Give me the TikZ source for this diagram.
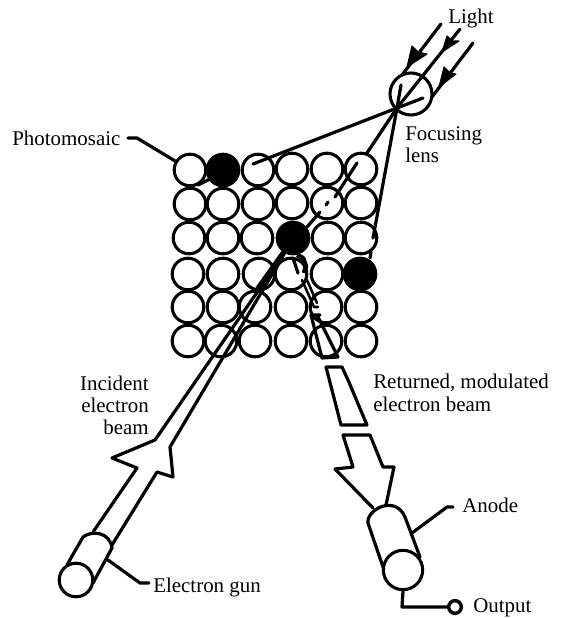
\documentclass[tikz,border=0pt]{standalone}
\usepackage{fontspec}
\setmainfont{Liberation Serif}
\begin{document}
\begin{tikzpicture}[x=0.75pt,y=-0.75pt,
  line join=round,
  ink/.style={line width=2.4pt,line cap=round},
  thin ink/.style={line width=1.9pt,line cap=round},
  cell/.style={circle,draw,line width=2.3pt,minimum size=23.7pt,inner sep=0pt},
  full/.style={cell,fill=black},
  lab/.style={anchor=base west,inner sep=0pt,font=\fontsize{15.7}{17}\selectfont},
  labr/.style={lab,anchor=base east},
  head/.style={fill=black,draw=black,line width=0.8pt}]
\useasboundingbox (0,0) rectangle (564,618);
% grid of mosaic cells
\foreach \n/\x/\y/\s in {
 a1/190/170/cell,a2/223/170/full,a3/258/170/cell,a4/292/169/cell,a5/327/169/cell,a6/361/169/cell,
 b1/190/204/cell,b2/223/204/cell,b3/258/204/cell,b4/292/203/cell,b5/327/203/cell,b6/361/203/cell,
 c1/189/238/cell,c2/223/238/cell,c3/257/238/cell,c4/293/238/full,c5/328/238/cell,c6/361/238/cell,
 d1/188/274/cell,d2/223/274/cell,d3/259/274/cell,d4/291/274/cell,d5/327/274/cell,d6/360/274/full,
 e1/188/307/cell,e2/223/307/cell,e3/255/307/cell,e4/291/307/cell,e5/326/307/cell,e6/361/307/cell,
 f1/188/341/cell,f2/221/341/cell,f3/255/341/cell,f4/291/341/cell,f5/326/341/cell,f6/361/341/cell}
 {\node[\s] (\n) at (\x,\y) {};}
% lens and focus
\node[circle,draw,line width=2.3pt,minimum size=31.5pt,inner sep=0pt] (lens) at (411,94) {};
\coordinate (focus) at (397,108);
% light rays
\draw[ink] (441,24) -- (402,75);
\draw[ink] (460,29) -- (focus);
\draw[ink] (473,43) -- (432,97);
\fill[head] (407,67) -- (412,46) -- (418,52) -- (427,54) -- cycle;
\fill[head] (442,52) -- (447,36) -- (452,41) -- (459,41) -- cycle;
\fill[head] (439,87) -- (444,67) -- (450,73) -- (456,74) -- cycle;
% rays inside lens
\draw[ink] (focus) -- (401,85);
\draw[ink] (focus) -- (423,98);
% rays to mosaic
\draw[ink] (focus) -- (253,164);
\draw[ink] (212,178) -- (198,185);
\draw[ink] (focus) -- (367,153);
\draw[ink] (357,163) -- (335,197);
\draw[ink] (328,202) -- (326,205);
\draw[ink] (320,212) -- (307,227);
\draw[ink] (focus) -- (373,238);
\draw[ink] (371,252) -- (370,258);
% incident beam
\coordinate (apex) at (287,249);
\draw[ink] (apex) -- (155,440) -- (112,458) -- (137,468) -- (93,532);
\draw[ink] (apex) -- (170,447) -- (173,477) -- (157,472) -- (112,545);
\draw[line width=3.6pt,line cap=round] (258,288) -- (283,253);
% gun
\node[circle,draw,line width=2.3pt,minimum size=25.2pt,inner sep=0pt] (gun) at (76,580) {};
\draw[ink] (67,565) -- (83,537) .. controls (92,530) and (110,532) .. (112,548) -- (93,583);
% returned beam
\draw[ink] (293,258) -- (298,273);
\draw[line width=3.4pt] (297,255) -- (303,258) -- (306,266) -- (304,273);
\draw[thin ink] (302,280) -- (314,307) -- (318,307);
\draw[thin ink] (307,280) -- (317,303);
\draw[ink] (320,315) -- (311,315) -- (322,358) -- (338,357) -- (317,315);
\draw[ink] (326,367) -- (342,367) -- (348,380) -- (367,425) -- (341,425) -- (326,367);
\draw[ink] (373,508) -- (335,469) -- (353,467) -- (343,435) -- (370,435) -- (383,467) -- (394,467) -- (386,505);
% anode
\node[circle,draw,line width=2.3pt,minimum size=29.5pt,inner sep=0pt] (anode) at (403,570) {};
\draw[ink] (383,567) -- (368,523) .. controls (366,510) and (395,494) .. (405,517) -- (420,557);
% labels
\node[lab] (light) at (448,23) {Light};
\node[lab] (mosaic) at (12,145) {Photomosaic};
\node[lab] (focusing) at (405,140) {Focusing};
\node[lab] (lenstext) at (405,162) {lens};
\node[labr] (inc1) at (149,390) {Incident};
\node[labr] (inc2) at (149,412) {electron};
\node[labr] (inc3) at (149,434) {beam};
\node[lab] (gunlab) at (153,592) {Electron gun};
\node[lab] (ret1) at (373,388) {Returned, modulated};
\node[lab] (ret2) at (373,411) {electron beam};
\node[lab] (anodelab) at (462,512) {Anode};
\node[lab] (outlab) at (473,612) {Output};
% leaders
\coordinate (ml) at (128,138);
\draw[ink] (ml) -- (137,138) -- (a1);
\coordinate (gl) at (149,583);
\draw[ink] (108,560) -- (140,583) -- (gl);
\coordinate (al) at (453,507);
\draw[ink] (412,533) -- (447,507) -- (al);
\node[circle,draw,line width=2.6pt,minimum size=9.5pt,inner sep=0pt] (out) at (455,607) {};
\draw[ink] (anode.south) -- (402,607) -- (out);
\end{tikzpicture}
\end{document}
